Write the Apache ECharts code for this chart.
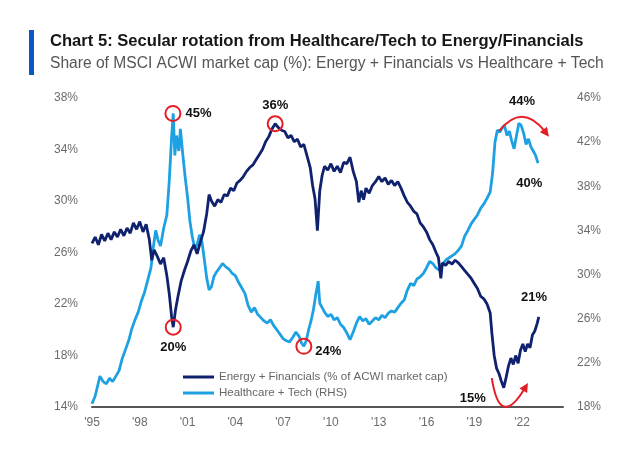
<!DOCTYPE html>
<html>
<head>
<meta charset="utf-8">
<script src="https://cdn.jsdelivr.net/npm/echarts@6/dist/echarts.min.js"></script>
<style>
html,body{margin:0;padding:0;background:#fff;}
#chart{width:624px;height:449px;}
</style>
</head>
<body>
<div id="chart"></div>
<script>
// ---- Data ----
var titleText = 'Chart 5: Secular rotation from Healthcare/Tech to Energy/Financials';
var subtitleText = 'Share of MSCI ACWI market cap (%): Energy + Financials vs Healthcare + Tech';
var seriesNames = ['Energy + Financials (% of ACWI market cap)', 'Healthcare + Tech (RHS)'];

var efYears = [1995.0,1995.2,1995.4,1995.6,1995.8,1996.0,1996.2,1996.4,1996.6,1996.8,1997.0,1997.2,1997.4,1997.6,1997.8,1998.0,1998.2,1998.4,1998.6,1998.75,1998.9,1999.1,1999.3,1999.5,1999.7,1999.85,2000.0,2000.1,2000.25,2000.4,2000.6,2000.8,2001.0,2001.2,2001.4,2001.6,2001.8,2002.0,2002.2,2002.35,2002.5,2002.7,2002.9,2003.1,2003.3,2003.5,2003.7,2003.9,2004.1,2004.3,2004.5,2004.7,2004.9,2005.1,2005.3,2005.5,2005.7,2005.9,2006.1,2006.3,2006.5,2006.7,2006.9,2007.1,2007.3,2007.5,2007.7,2007.9,2008.1,2008.3,2008.5,2008.7,2008.85,2009.0,2009.15,2009.3,2009.45,2009.6,2009.8,2010.0,2010.2,2010.4,2010.6,2010.8,2011.0,2011.2,2011.4,2011.6,2011.75,2011.9,2012.05,2012.2,2012.4,2012.6,2012.8,2013.0,2013.2,2013.4,2013.6,2013.8,2014.0,2014.2,2014.4,2014.6,2014.8,2015.0,2015.2,2015.4,2015.6,2015.8,2016.0,2016.2,2016.4,2016.6,2016.75,2016.9,2017.0,2017.2,2017.4,2017.6,2017.8,2018.0,2018.2,2018.4,2018.6,2018.8,2019.0,2019.2,2019.4,2019.6,2019.8,2020.0,2020.1,2020.25,2020.4,2020.55,2020.7,2020.85,2021.0,2021.15,2021.3,2021.45,2021.6,2021.75,2021.9,2022.05,2022.2,2022.35,2022.5,2022.65,2022.8,2022.95,2023.05];
var efValues = [26.7,27.2,26.6,27.4,26.9,27.5,27.0,27.6,27.2,27.8,27.3,27.9,27.5,28.3,27.8,28.4,27.6,28.2,27.0,25.4,26.2,25.7,25.1,25.6,24.2,22.8,21.0,20.2,21.6,22.6,23.8,24.6,25.3,26.1,26.6,25.9,26.8,27.6,29.0,30.5,30.0,29.6,30.1,29.9,30.5,30.4,31.0,30.8,31.4,31.6,31.9,32.3,32.6,32.8,33.2,33.6,34.0,34.6,35.0,35.6,36.0,35.7,35.5,35.4,34.9,35.1,34.6,34.8,34.2,34.4,33.5,32.6,31.2,30.2,27.7,30.8,32.0,32.7,32.4,32.9,32.3,32.7,32.2,33.0,32.9,33.4,32.3,31.5,29.9,30.8,30.1,31.0,30.6,31.2,31.5,31.9,31.5,31.8,31.3,31.6,31.2,31.5,31.0,30.4,29.9,29.6,29.2,29.0,28.3,28.0,27.6,27.0,26.6,26.0,25.6,24.0,25.2,25.0,25.3,25.1,25.4,25.2,24.9,24.6,24.3,24.0,23.6,23.2,22.6,22.4,22.0,21.3,19.8,18.0,17.0,16.6,16.0,15.5,16.3,17.2,17.8,17.3,18.0,17.4,18.4,18.9,18.3,18.9,18.6,19.6,19.9,20.5,21.0];

var htYears = [1995.0,1995.2,1995.4,1995.5,1995.7,1995.9,1996.1,1996.3,1996.5,1996.7,1996.9,1997.1,1997.3,1997.5,1997.7,1997.9,1998.1,1998.3,1998.5,1998.7,1998.85,1999.0,1999.15,1999.3,1999.5,1999.7,1999.85,2000.0,2000.1,2000.2,2000.3,2000.45,2000.55,2000.7,2000.85,2001.0,2001.15,2001.3,2001.45,2001.6,2001.75,2001.9,2002.05,2002.2,2002.35,2002.5,2002.65,2002.8,2003.0,2003.2,2003.4,2003.6,2003.8,2004.0,2004.2,2004.4,2004.6,2004.8,2005.0,2005.2,2005.4,2005.6,2005.8,2006.0,2006.2,2006.4,2006.6,2006.8,2007.0,2007.2,2007.4,2007.6,2007.8,2008.0,2008.15,2008.3,2008.45,2008.6,2008.75,2008.9,2009.05,2009.2,2009.3,2009.45,2009.6,2009.8,2010.0,2010.2,2010.4,2010.6,2010.8,2011.0,2011.2,2011.4,2011.6,2011.8,2012.0,2012.2,2012.4,2012.6,2012.8,2013.0,2013.2,2013.4,2013.6,2013.8,2014.0,2014.2,2014.4,2014.6,2014.8,2015.0,2015.2,2015.4,2015.6,2015.8,2016.0,2016.2,2016.4,2016.6,2016.8,2017.0,2017.2,2017.4,2017.6,2017.8,2018.0,2018.2,2018.4,2018.6,2018.8,2019.0,2019.2,2019.4,2019.6,2019.8,2020.0,2020.15,2020.3,2020.45,2020.6,2020.75,2020.9,2021.05,2021.2,2021.35,2021.5,2021.65,2021.8,2021.95,2022.1,2022.25,2022.4,2022.55,2022.7,2022.85,2023.0];
var htValues = [18.3,19.0,20.2,20.8,20.3,20.1,20.6,20.3,20.8,21.3,22.4,23.2,24.0,25.1,25.9,26.6,27.6,28.4,29.5,30.6,32.5,34.0,33.1,32.6,34.2,35.4,38.5,42.5,44.6,40.8,42.6,41.2,43.2,40.9,38.8,37.0,34.8,33.4,32.4,32.7,33.6,33.0,31.4,29.7,28.6,28.9,29.8,30.2,30.6,31.0,30.7,30.5,30.1,29.9,29.3,28.8,28.3,27.2,26.6,27.0,26.4,26.1,25.8,25.6,25.9,25.4,25.0,24.6,24.2,24.0,23.9,24.3,24.8,24.4,23.8,23.5,24.0,25.0,25.8,26.8,28.2,29.4,27.4,27.0,26.6,26.2,26.4,25.9,26.1,25.5,25.2,24.7,24.1,24.8,25.6,26.2,25.8,26.0,25.5,25.8,26.1,25.9,26.3,26.1,26.5,26.7,26.6,27.0,27.4,27.7,28.6,29.2,29.0,29.6,29.8,30.1,30.6,31.2,31.0,30.6,30.4,30.9,31.3,31.5,31.7,31.9,32.2,32.6,33.5,34.0,34.6,35.0,35.4,36.0,36.4,36.9,37.5,39.2,42.0,43.1,42.9,43.3,43.5,42.6,43.0,42.1,41.4,42.6,43.7,43.5,42.8,41.8,42.3,41.6,41.2,40.8,40.1];

// Axis ticks
var leftTicks = [14, 18, 22, 26, 30, 34, 38];
var rightTicks = [18, 22, 26, 30, 34, 38, 42, 46];
var xTickYears = [1995, 1998, 2001, 2004, 2007, 2010, 2013, 2016, 2019, 2022];

// Annotations: [year, value, label]
var efCircled = [[2000.1, 20.2, '20%'], [2006.5, 36.0, '36%']];
var htCircled = [[2000.08, 44.6, '45%'], [2008.3, 23.5, '24%']];
var efTextOnly = [[2022.75, 22.5, '21%'], [2018.9, 14.7, '15%']];
var htTextOnly = [[2022.0, 45.7, '44%'], [2022.45, 38.3, '40%']];
// Arrows: [startYear, startVal, ctrlYear, ctrlVal, endYear, endVal]
var htArrow = [2020.55, 43.0, 2022.0, 45.6, 2023.69, 42.5];
var efArrow = [2020.1, 16.25, 2020.6, 12.25, 2022.37, 15.86];

// ---- Build ----
function zip(a, b) { return a.map(function (v, i) { return [v, b[i]]; }); }

var RED = '#e41e26';
var NAVY = '#10216e';
var LIGHT = '#1ea1e2';
var labelFont = { color: '#111', fontWeight: 'bold', fontSize: 13, fontFamily: 'Liberation Sans, Arial, sans-serif' };

function circleMarks(list, positions) {
  return list.map(function (d, i) {
    return {
      coord: [d[0], d[1]], name: d[2], symbol: 'circle', symbolSize: 15,
      itemStyle: { color: 'rgba(0,0,0,0)', borderColor: RED, borderWidth: 2 },
      label: Object.assign({ show: true, formatter: '{b}', position: positions[i][0], distance: positions[i][1], offset: positions[i][2] || [0, 0] }, labelFont)
    };
  });
}
function textMarks(list) {
  return list.map(function (d) {
    return {
      coord: [d[0], d[1]], name: d[2], symbol: 'circle', symbolSize: 1,
      itemStyle: { color: 'rgba(0,0,0,0)' },
      label: Object.assign({ show: true, formatter: '{b}', position: 'inside' }, labelFont)
    };
  });
}

var chart = echarts.init(document.getElementById('chart'), null, { renderer: 'canvas' });

var axisLabelStyle = { color: '#6b6b6b', fontSize: 12, fontFamily: 'Liberation Sans, Arial, sans-serif' };

var option = {
  backgroundColor: '#fff',
  animation: false,
  grid: { left: 92, right: 61, top: 98, bottom: 42 },
  legend: {
    orient: 'vertical', left: 178, top: 366,
    itemWidth: 31, itemHeight: 3, itemGap: 4,
    icon: 'rect',
    textStyle: { color: '#666', fontSize: 11.5, fontFamily: 'Liberation Sans, Arial, sans-serif' },
    data: seriesNames
  },
  xAxis: {
    type: 'value', min: xTickYears[0], max: 2024.57, interval: 3,
    axisLine: { show: true, lineStyle: { color: '#555', width: 2 } },
    axisTick: { show: false },
    splitLine: { show: false },
    axisLabel: Object.assign({ margin: 10, showMaxLabel: false, formatter: function (v) { return "'" + String(v).slice(2); } }, axisLabelStyle)
  },
  yAxis: [
    {
      type: 'value', min: leftTicks[0], max: leftTicks[leftTicks.length - 1], interval: 4,
      axisLine: { show: false }, axisTick: { show: false }, splitLine: { show: false },
      axisLabel: Object.assign({ margin: 14, formatter: '{value}%' }, axisLabelStyle)
    },
    {
      type: 'value', min: rightTicks[0], max: rightTicks[rightTicks.length - 1], interval: 4,
      axisLine: { show: false }, axisTick: { show: false }, splitLine: { show: false },
      axisLabel: Object.assign({ margin: 14, formatter: '{value}%' }, axisLabelStyle)
    }
  ],
  series: [
    {
      name: seriesNames[1], type: 'line', yAxisIndex: 1, data: zip(htYears, htValues),
      showSymbol: false, symbol: 'none', color: LIGHT,
      lineStyle: { color: LIGHT, width: 2.8 },
      markPoint: { silent: true, data: circleMarks(htCircled, [['right', 4], ['right', 3, [0, 5]]]).concat(textMarks(htTextOnly)) }
    },
    {
      name: seriesNames[0], type: 'line', yAxisIndex: 0, data: zip(efYears, efValues),
      showSymbol: false, symbol: 'none', color: NAVY,
      lineStyle: { color: NAVY, width: 2.8 },
      markPoint: { silent: true, data: circleMarks(efCircled, [['bottom', 5], ['top', 3]]).concat(textMarks(efTextOnly)) }
    }
  ]
};
chart.setOption(option);

function arrowElements(a, yAxisIndex, idp) {
  var f = { xAxisIndex: 0, yAxisIndex: yAxisIndex };
  var s = chart.convertToPixel(f, [a[0], a[1]]);
  var c = chart.convertToPixel(f, [a[2], a[3]]);
  var e = chart.convertToPixel(f, [a[4], a[5]]);
  var dx = e[0] - c[0], dy = e[1] - c[1];
  var len = Math.sqrt(dx * dx + dy * dy);
  var ux = dx / len, uy = dy / len;
  var hl = 9, hw = 4.5;
  var bx = e[0] - ux * hl, by = e[1] - uy * hl;
  return [
    { type: 'bezierCurve', id: idp + 'c', shape: { x1: s[0], y1: s[1], cpx1: c[0], cpy1: c[1], x2: bx + ux * 2, y2: by + uy * 2 },
      style: { stroke: RED, lineWidth: 2, fill: null }, z: 10 },
    { type: 'polygon', id: idp + 'h', shape: { points: [[e[0], e[1]], [bx - uy * hw, by + ux * hw], [bx + uy * hw, by - ux * hw]] },
      style: { fill: RED }, z: 10 }
  ];
}

var graphics = [
  { type: 'rect', id: 'bar', shape: { x: 29, y: 30, width: 5, height: 45 }, style: { fill: '#0a55c9' } },
  { type: 'text', id: 'title', x: 50, y: 41, style: { text: titleText, fill: '#161616', font: 'bold 16.6px "Liberation Sans", Arial, sans-serif', verticalAlign: 'middle' } },
  { type: 'text', id: 'sub', x: 50, y: 64, style: { text: subtitleText, fill: '#555', font: '15.6px "Liberation Sans", Arial, sans-serif', verticalAlign: 'middle' } }
].concat(arrowElements(htArrow, 1, 'a1')).concat(arrowElements(efArrow, 0, 'a2'));

chart.setOption({ graphic: { elements: graphics } });
</script>
</body>
</html>
